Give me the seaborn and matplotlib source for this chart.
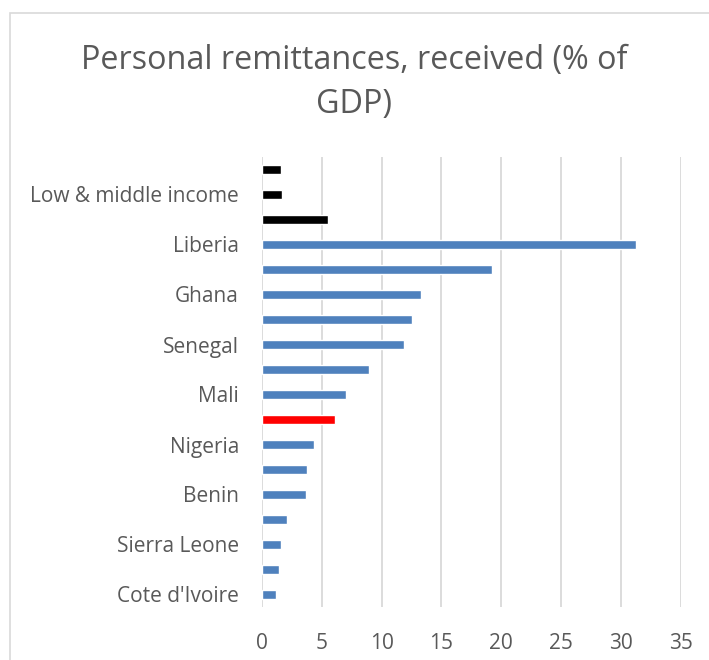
import matplotlib
matplotlib.use("Agg")
import matplotlib.pyplot as plt
import seaborn as sns
import pandas as pd
from matplotlib.patches import Rectangle

# Categories listed top to bottom as they appear on the chart
categories = [
    "World", "Low & middle income", "ECOWAS", "Liberia", "Gambia, The",
    "Ghana", "Cabo Verde", "Senegal", "Togo", "Mali", "Guinea-Bissau",
    "Nigeria", "Burkina Faso", "Benin", "Niger", "Sierra Leone",
    "Guinea", "Cote d'Ivoire",
]
values = [1.59, 1.67, 5.52, 31.24, 19.23, 13.29, 12.54, 11.85, 8.92, 7.02,
          6.10, 4.35, 3.73, 3.65, 2.06, 1.59, 1.42, 1.20]
# Only every other category name is printed on the axis
shown_labels = [
    "", "Low & middle income", "", "Liberia", "", "Ghana", "", "Senegal",
    "", "Mali", "", "Nigeria", "", "Benin", "", "Sierra Leone", "",
    "Cote d'Ivoire",
]
bar_colors = (["#000000"] * 3 + ["#4F81BD"] * 7 + ["#FF0000"]
              + ["#4F81BD"] * 7)
x_ticks = [0, 5, 10, 15, 20, 25, 30, 35]

sns.set_theme(style="white")
plt.rcParams["font.family"] = ["Open Sans", "DejaVu Sans"]

df = pd.DataFrame({"country": categories, "value": values})

fig = plt.figure(figsize=(7.09, 6.6), dpi=100)
ax = fig.add_axes([262 / 709, 1 - 607 / 660, 418.7 / 709, 450 / 660])

sns.barplot(data=df, y="country", x="value", hue="country",
            palette=dict(zip(categories, bar_colors)), order=categories,
            orient="h", width=0.33, legend=False, ax=ax, saturation=1,
            zorder=3)

ax.set_xlim(0, 35)
ax.set_xticks(x_ticks)
ax.set_xticklabels([str(t) for t in x_ticks])
ax.set_yticks(range(len(categories)))
ax.set_yticklabels(shown_labels)
ax.set_ylim(len(categories) - 0.5, -0.5)
ax.set_xlabel("")
ax.set_ylabel("")

ax.grid(axis="x", color="#D9D9D9", linewidth=1.3, zorder=0)
ax.grid(axis="y", visible=False)
for side in ["top", "right", "bottom", "left"]:
    ax.spines[side].set_visible(False)
ax.tick_params(axis="x", length=0, pad=19, labelsize=15, labelcolor="#595959")
ax.tick_params(axis="y", length=0, pad=16.5, labelsize=15, labelcolor="#595959")

fig.text(0.5, 1 - 61 / 660, "Personal remittances, received (% of",
         ha="center", va="center", fontsize=23.3, color="#595959")
fig.text(0.5, 1 - 104 / 660, "GDP)",
         ha="center", va="center", fontsize=23.3, color="#595959")

# Chart-area frame
fig.patches.append(Rectangle((10 / 709, -0.1), 1.2, 1 - 13 / 660 + 0.1,
                             transform=fig.transFigure, fill=False,
                             edgecolor="#D9D9D9", linewidth=1.2))

fig.savefig("out.png", dpi=100, facecolor="white")
